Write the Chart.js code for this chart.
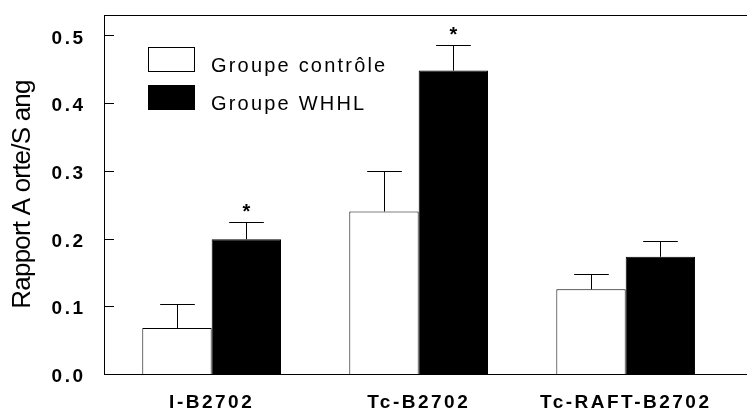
<!DOCTYPE html>
<html>
<head>
<meta charset="utf-8">
<script src="https://cdn.jsdelivr.net/npm/chart.js@4.4.0/dist/chart.umd.min.js"></script>
<style>
  html, body { margin: 0; padding: 0; background: #fff; }
  canvas { display: block; }
</style>
</head>
<body>
<canvas id="chart" width="747" height="408"></canvas>
<script>
// ── DATA ──
const categories = ['I-B2702', 'Tc-B2702', 'Tc-RAFT-B2702'];
const groupPos = [1, 2, 3];
const seriesNames = ['Groupe contrôle', 'Groupe WHHL'];
const controle = [0.068, 0.240, 0.125];
const controleErr = [0.035, 0.060, 0.022];
const controleMarks = ['', '', ''];
const whhl = [0.199, 0.448, 0.173];
const whhlErr = [0.025, 0.038, 0.023];
const whhlMarks = ['*', '*', ''];
const yTicks = [0.0, 0.1, 0.2, 0.3, 0.4, 0.5];

// ── STYLE ──
const FONT = "'Liberation Sans', Arial, sans-serif";
const INK = '#000000';

// ── PLUGINS ──
// title is drawn with the grid layer, tick labels (z = 1) after the datasets
const spacing = {
  id: 'spacing',
  beforeDraw(chart) { chart.ctx.letterSpacing = '-0.8px'; }
};

const errorBars = {
  id: 'errorBars',
  afterDatasetsDraw(chart) {
    const ctx = chart.ctx;
    const y = chart.scales.y;
    ctx.save();
    ctx.strokeStyle = INK;
    ctx.fillStyle = INK;
    ctx.lineWidth = 1;
    ctx.letterSpacing = '0px';

    // inner tick marks on the value axis
    ctx.beginPath();
    y.ticks.forEach(t => {
      const py = Math.round(y.getPixelForValue(t.value)) + 0.5;
      ctx.moveTo(y.right, py);
      ctx.lineTo(y.right + 10, py);
    });
    ctx.stroke();

    ctx.font = `bold 20px ${FONT}`;
    ctx.textAlign = 'center';
    ctx.textBaseline = 'alphabetic';
    chart.data.datasets.forEach((ds, i) => {
      chart.getDatasetMeta(i).data.forEach((bar, j) => {
        const top = Math.round(y.getPixelForValue(ds.data[j].y + ds.err[j])) + 0.5;
        const bx = Math.round(bar.x) + 0.5;
        const half = bar.width / 4;
        ctx.beginPath();
        ctx.moveTo(bx, bar.y);
        ctx.lineTo(bx, top);
        ctx.moveTo(bx - half, top);
        ctx.lineTo(bx + half, top);
        ctx.stroke();
        if (ds.marks[j]) ctx.fillText(ds.marks[j], bar.x, top - 5);
      });
    });
    ctx.restore();
    ctx.letterSpacing = '2.5px';
  }
};

const boxLegend = {
  id: 'boxLegend',
  afterDraw(chart) {
    const { ctx, chartArea } = chart;
    ctx.save();
    ctx.letterSpacing = '2.2px';
    ctx.font = `20px ${FONT}`;
    ctx.textAlign = 'left';
    ctx.textBaseline = 'alphabetic';
    chart.data.datasets.forEach((ds, i) => {
      const bx = chartArea.left + 44;
      const by = chartArea.top + 32 + i * 38;
      ctx.fillStyle = ds.backgroundColor;
      ctx.fillRect(bx, by, 47, 25);
      ctx.strokeStyle = INK;
      ctx.lineWidth = 1;
      ctx.strokeRect(bx + 0.5, by + 0.5, 46, 24);
      ctx.fillStyle = INK;
      ctx.fillText(ds.label, bx + 63, by + 24.5);
    });
    ctx.restore();
    ctx.letterSpacing = '0px';
  }
};

// ── CHART ──
new Chart(document.getElementById('chart'), {
  type: 'bar',
  data: {
    datasets: [
      {
        label: seriesNames[0],
        data: groupPos.map((x, i) => ({ x, y: controle[i] })),
        err: controleErr,
        marks: controleMarks,
        backgroundColor: '#ffffff',
        borderColor: INK,
        borderWidth: 1
      },
      {
        label: seriesNames[1],
        data: groupPos.map((x, i) => ({ x, y: whhl[i] })),
        err: whhlErr,
        marks: whhlMarks,
        backgroundColor: INK,
        borderColor: INK,
        borderWidth: 1
      }
    ]
  },
  options: {
    responsive: false,
    animation: false,
    datasets: { bar: { categoryPercentage: 0.67, barPercentage: 1 } },
    layout: { autoPadding: false, padding: { top: 15, right: 0, bottom: 0, left: 0 } },
    plugins: { legend: { display: false }, tooltip: { enabled: false } },
    scales: {
      x: {
        type: 'linear',
        min: 0.48,
        max: 3.586,
        offset: false,
        grid: { display: false, drawTicks: false },
        border: { color: INK, width: 1 },
        ticks: {
          z: 1,
          color: INK,
          font: { family: FONT, size: 19, weight: 'bold' },
          padding: 17,
          autoSkip: false,
          maxRotation: 0,
          callback: (v, i) => categories[i]
        },
        afterBuildTicks: s => { s.ticks = groupPos.map(v => ({ value: v })); },
        afterFit: s => { s.height = 34; s.paddingLeft = 0; s.paddingRight = 0; }
      },
      x2: {
        type: 'linear',
        position: 'top',
        min: 0,
        max: 1,
        grid: { display: false, drawTicks: false },
        ticks: { display: false },
        border: { color: INK, width: 1 },
        afterFit: s => { s.height = 0; }
      },
      y: {
        min: 0,
        max: 0.53,
        grid: { display: false, drawTicks: false },
        border: { color: INK, width: 1 },
        ticks: {
          z: 1,
          color: INK,
          font: { family: FONT, size: 19, weight: 'bold' },
          padding: 18.5,
          labelOffset: 3,
          callback: v => v.toFixed(1)
        },
        afterBuildTicks: s => { s.ticks = yTicks.map(v => ({ value: v })); },
        afterFit: s => { s.width = 104; s.paddingTop = 0; s.paddingBottom = 0; },
        title: {
          display: true,
          text: 'Rapport A orte/S ang',
          color: INK,
          font: { family: FONT, size: 26 },
          padding: { top: 7, bottom: 0 }
        }
      }
    }
  },
  plugins: [spacing, errorBars, boxLegend]
});
</script>
</body>
</html>
